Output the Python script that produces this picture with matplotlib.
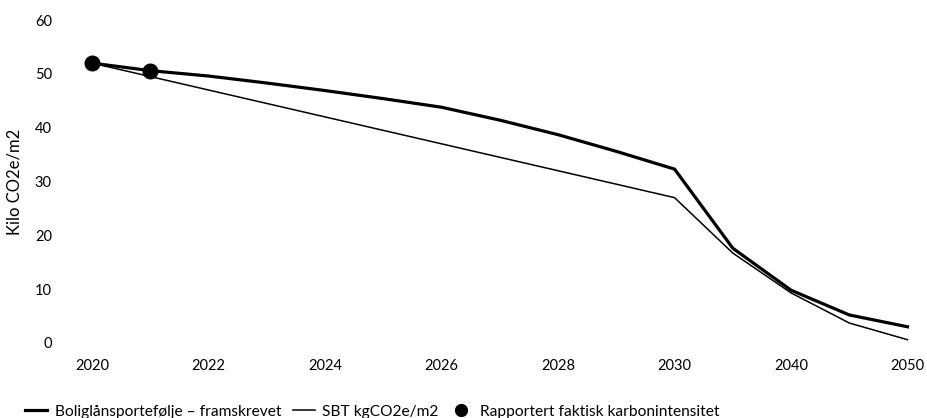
import matplotlib.pyplot as plt
from matplotlib.lines import Line2D

plt.rcParams['font.family'] = ['Lato', 'DejaVu Sans']

# kategorier på x-aksen (ikke lineær tid etter 2030)
aar = ['2020', '2021', '2022', '2023', '2024', '2025', '2026', '2027', '2028',
       '2029', '2030', '2035', '2040', '2045', '2050']
framskrevet = [52.0, 50.6, 49.6, 48.3, 46.9, 45.4, 43.8, 41.4, 38.7, 35.6, 32.3,
               17.6, 9.8, 5.2, 3.0]
sbt = [52.0, 49.5, 47.0, 44.5, 42.0, 39.5, 37.0, 34.5, 32.0, 29.5, 27.0,
       16.7, 9.3, 3.7, 0.6]
rapportert_aar = ['2020', '2021']
rapportert = [52.0, 50.6]

fig = plt.figure(figsize=(9.27, 4.18), dpi=100)
ax = fig.add_axes([63 / 927, 1 - 351 / 418, (925 - 63) / 927, (351 - 12) / 418])

x = list(range(len(aar)))
xr = [aar.index(a) for a in rapportert_aar]
ax.plot(x, framskrevet, color='black', lw=2.3, solid_joinstyle='miter')
ax.plot(x, sbt, color='black', lw=1.1)
ax.plot(xr, rapportert, 'o', color='black', markersize=10.5, zorder=5)

ax.set_xlim(-0.5, 14.3)
ax.set_ylim(-1.5, 61.5)
ax.set_xticks(x[::2])
ax.set_xticklabels(aar[::2])
ax.set_yticks(range(0, 61, 10))
ax.tick_params(length=0, labelsize=10.5, colors='black')
ax.tick_params(axis='y', pad=8)
ax.tick_params(axis='x', pad=6)
for s in ax.spines.values():
    s.set_visible(False)
ax.set_ylabel('Kilo CO2e/m2', fontsize=12, labelpad=9)

handles = [Line2D([], [], color='black', lw=2.3),
           Line2D([], [], color='black', lw=1.1),
           Line2D([], [], marker='o', ls='', color='black', markersize=8.5)]
labels = ['Boliglånsportefølje – framskrevet', 'SBT kgCO2e/m2',
          'Rapportert faktisk karbonintensitet']
fig.legend(handles, labels, loc='lower left', bbox_to_anchor=(0.012, -0.035),
           ncol=3, frameon=False, fontsize=11.2, handlelength=1.4,
           handletextpad=0.5, columnspacing=0.75)

fig.savefig('out.png', dpi=100)
